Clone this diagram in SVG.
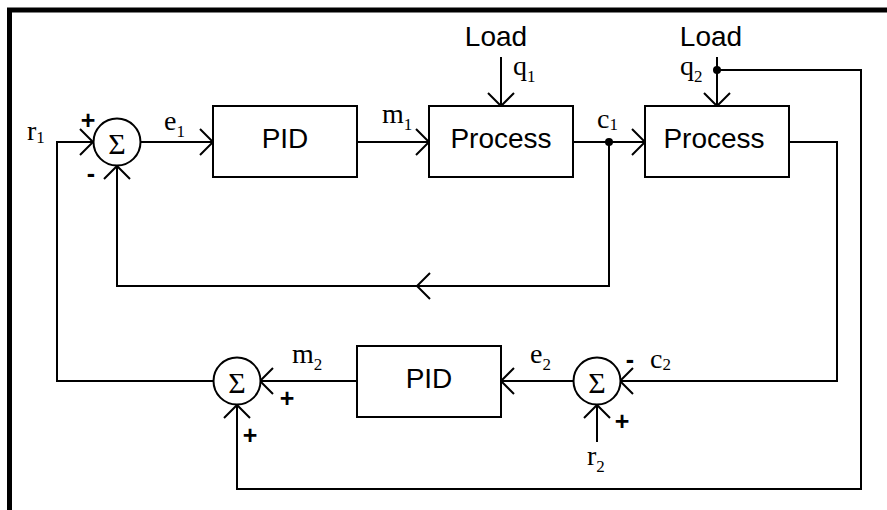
<svg xmlns="http://www.w3.org/2000/svg" width="887" height="510" viewBox="0 0 887 510">
<defs>
<marker id="arr" markerUnits="userSpaceOnUse" markerWidth="32" markerHeight="32" viewBox="-16 -16 32 32" refX="0" refY="0" orient="auto">
<path d="M-13,-13 L0,0 L-13,13" fill="none" stroke="#000" stroke-width="2"/>
</marker>
</defs>
<style>
.ln{fill:none;stroke:#000;stroke-width:2}
.box{fill:#fff;stroke:#000;stroke-width:2}
.blk{font-family:"Liberation Sans",Arial,sans-serif;font-size:28px;text-anchor:middle;fill:#000}
.lbl{font-family:"Liberation Serif","Times New Roman",serif;font-size:28px;fill:#000}
.sub{font-size:17px}
.sig{font-family:"Liberation Serif","Times New Roman",serif;font-size:30px;text-anchor:middle;fill:#000}
.sgn{font-family:"Liberation Sans",Arial,sans-serif;font-size:25px;font-weight:bold;text-anchor:middle;fill:#000}
</style>
<rect width="887" height="510" fill="#fff"/>
<path d="M9.5,510 V10 H887" fill="none" stroke="#000" stroke-width="5"/>

<g id="connectors">
<path class="ln" d="M213,381 H57 V142 H93" marker-end="url(#arr)"/>
<path class="ln" d="M141,142 H213" marker-end="url(#arr)"/>
<path class="ln" d="M357,142 H429" marker-end="url(#arr)"/>
<path class="ln" d="M501,57 V106" marker-end="url(#arr)"/>
<path class="ln" d="M573,142 H645" marker-end="url(#arr)"/>
<path class="ln" d="M609,142 V286 H417" marker-end="url(#arr)"/>
<path class="ln" d="M417,286 H117 V166" marker-end="url(#arr)"/>
<path class="ln" d="M717,57 V106" marker-end="url(#arr)"/>
<path class="ln" d="M717,70 H861 V489 H237 V405" marker-end="url(#arr)"/>
<path class="ln" d="M789,142 H837 V381 H620" marker-end="url(#arr)"/>
<path class="ln" d="M597,442 V405" marker-end="url(#arr)"/>
<path class="ln" d="M573,381 H501" marker-end="url(#arr)"/>
<path class="ln" d="M357,381 H260" marker-end="url(#arr)"/>
<circle cx="609" cy="142" r="4" fill="#000"/>
<circle cx="717" cy="70" r="4" fill="#000"/>
</g>

<g id="sum1">
<circle class="box" cx="117" cy="142" r="23.5"/>
<text class="sig" x="117" y="154">Σ</text>
<text class="sgn" x="88" y="129">+</text>
<text class="sgn" x="91" y="182">-</text>
</g>
<g id="pid1">
<rect class="box" x="213" y="106" width="144" height="71"/>
<text class="blk" x="285" y="148">PID</text>
</g>
<g id="process1">
<rect class="box" x="429" y="106" width="144" height="71"/>
<text class="blk" x="501" y="148">Process</text>
</g>
<g id="process2">
<rect class="box" x="645" y="106" width="144" height="71"/>
<text class="blk" x="714" y="148">Process</text>
</g>
<g id="load1"><text class="blk" x="496" y="46">Load</text></g>
<g id="load2"><text class="blk" x="711" y="46">Load</text></g>
<g id="sum2">
<circle class="box" cx="597" cy="381" r="23.5"/>
<text class="sig" x="597" y="393">Σ</text>
<text class="sgn" x="630" y="368">-</text>
<text class="sgn" x="622" y="430">+</text>
</g>
<g id="pid2">
<rect class="box" x="357" y="346" width="144" height="71"/>
<text class="blk" x="429" y="388">PID</text>
</g>
<g id="sum3">
<circle class="box" cx="237" cy="381" r="23.5"/>
<text class="sig" x="237" y="393">Σ</text>
<text class="sgn" x="287" y="407">+</text>
<text class="sgn" x="250" y="444">+</text>
</g>

<g id="labels">
<text class="lbl" x="27" y="140">r<tspan class="sub" dy="3">1</tspan></text>
<text class="lbl" x="164" y="130">e<tspan class="sub" dy="7">1</tspan></text>
<text class="lbl" x="382" y="123">m<tspan class="sub" dy="7">1</tspan></text>
<text class="lbl" x="597" y="128">c<tspan class="sub" dy="2">1</tspan></text>
<text class="lbl" x="513" y="75">q<tspan class="sub" dy="7">1</tspan></text>
<text class="lbl" x="680" y="75">q<tspan class="sub" dy="7">2</tspan></text>
<text class="lbl" x="292" y="363">m<tspan class="sub" dy="7">2</tspan></text>
<text class="lbl" x="530" y="363">e<tspan class="sub" dy="7">2</tspan></text>
<text class="lbl" x="650" y="368">c<tspan class="sub" dy="2">2</tspan></text>
<text class="lbl" x="587" y="465">r<tspan class="sub" dy="7">2</tspan></text>
</g>
</svg>
